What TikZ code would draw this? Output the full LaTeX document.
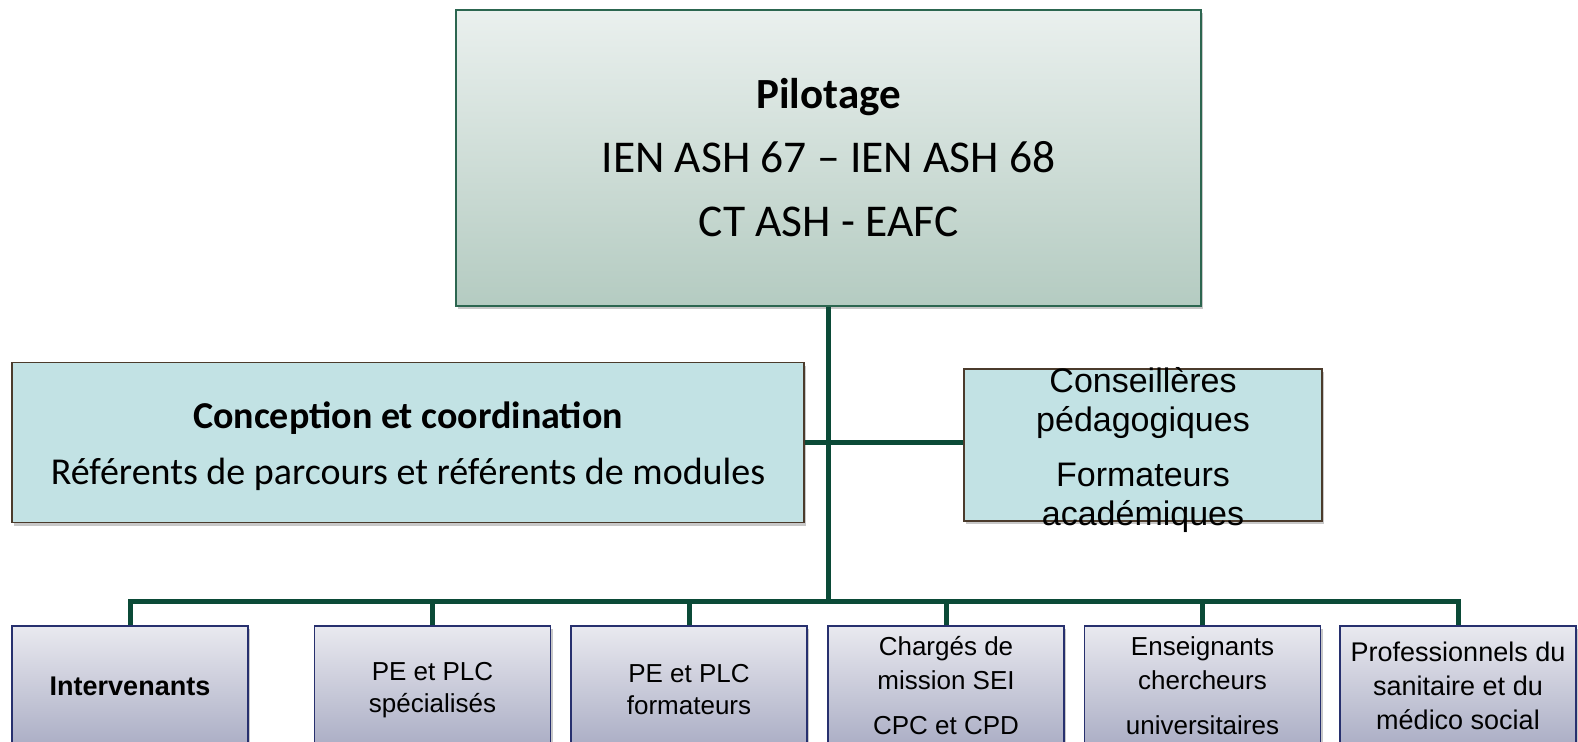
\documentclass[tikz,border=0pt]{standalone}
\usepackage{fontspec}
\setmainfont{Liberation Sans}
\newfontfamily\carl{Carlito}
\usetikzlibrary{shadows}
\definecolor{connc}{HTML}{0B4A37}
\definecolor{pilottop}{HTML}{EAF0EE}
\definecolor{pilotbot}{HTML}{B4CBC1}
\definecolor{pilotborder}{HTML}{2C6650}
\definecolor{concepfill}{HTML}{C2E2E4}
\definecolor{concepborder}{HTML}{4B3B2C}
\definecolor{bottop}{HTML}{E9E9EF}
\definecolor{botbot}{HTML}{ABAEC5}
\definecolor{botborder}{HTML}{27306E}
\tikzset{
  shad/.style={drop shadow={shadow xshift=2pt, shadow yshift=-3pt, opacity=0.3, fill=black!70}},
  pilotbox/.style={shad, draw=pilotborder, line width=1.6pt, top color=pilottop, bottom color=pilotbot,
    minimum width=745, minimum height=296, inner sep=0pt, align=center,
    font={\carl\fontsize{45.5}{64}\selectfont}},
  concepbox/.style={shad, draw=concepborder, line width=1.6pt, fill=concepfill,
    minimum height=160, inner sep=0pt, align=center},
  botbox/.style={shad, draw=botborder, line width=1.4pt, top color=bottop, bottom color=botbot,
    minimum width=236, minimum height=120, inner sep=0pt, align=center,
    font=\fontsize{26}{34}\selectfont},
  bottext/.style={align=center, yshift=-4pt, font=\fontsize{26}{32}\selectfont},
  connline/.style={draw=connc, line width=5pt}
}
\begin{document}
\begin{tikzpicture}[x=1pt,y=1pt]
\useasboundingbox (0,0) rectangle (1578,-741);
\clip (0,0) rectangle (1578,-741);
\fill[white] (0,0) rectangle (1578,-741);

% top box
\node[pilotbox] (pilot) at (828.5,-158)
  {{\fontsize{43}{64}\selectfont\textbf{Pilotage}}\\IEN ASH 67 – IEN ASH 68\\CT ASH - EAFC};

% middle boxes
\node[concepbox, minimum width=792,
  label={[align=center, yshift=-4pt, font={\carl\fontsize{38}{56}\selectfont}]center:\textbf{Conception et coordination}\\Référents de parcours et référents de modules}]
  (concep) at (408,-442.5) {};
\node[concepbox, minimum width=358, minimum height=152,
  label={[align=center, yshift=-5pt, font=\fontsize{34}{39}\selectfont]center:Conseillères\\pédagogiques\\[16pt]Formateurs\\académiques}]
  (conseil) at (1143,-445) {};

% bottom boxes
\node[botbox, font=\fontsize{27}{34}\selectfont] (b1) at (130,-686) {\textbf{Intervenants}};
\node[botbox, label={[bottext]center:PE et PLC\\spécialisés}] (b2) at (432.5,-686) {};
\node[botbox, label={[bottext]center:PE et PLC\\formateurs}] (b3) at (689,-686) {};
\node[botbox] (b4) at (946,-686) {Chargés de\\mission SEI\\[11pt]CPC et CPD};
\node[botbox] (b5) at (1202.5,-686) {Enseignants\\chercheurs\\[11pt]universitaires};
\node[botbox, font=\fontsize{27}{34}\selectfont] (b6) at (1458,-686) {Professionnels du\\sanitaire et du\\médico social};

% connectors
\draw[connline] (b1.north) -- ++(0,24) coordinate (busL) -| (b6.north);
\foreach \i in {2,3,4,5} \draw[connline] (b\i.north) -- (b\i.north |- busL);
\draw[connline] (pilot.south) -- (pilot.south |- busL);
\draw[connline] (concep.east) -- (concep.east -| conseil.west);
\end{tikzpicture}
\end{document}
